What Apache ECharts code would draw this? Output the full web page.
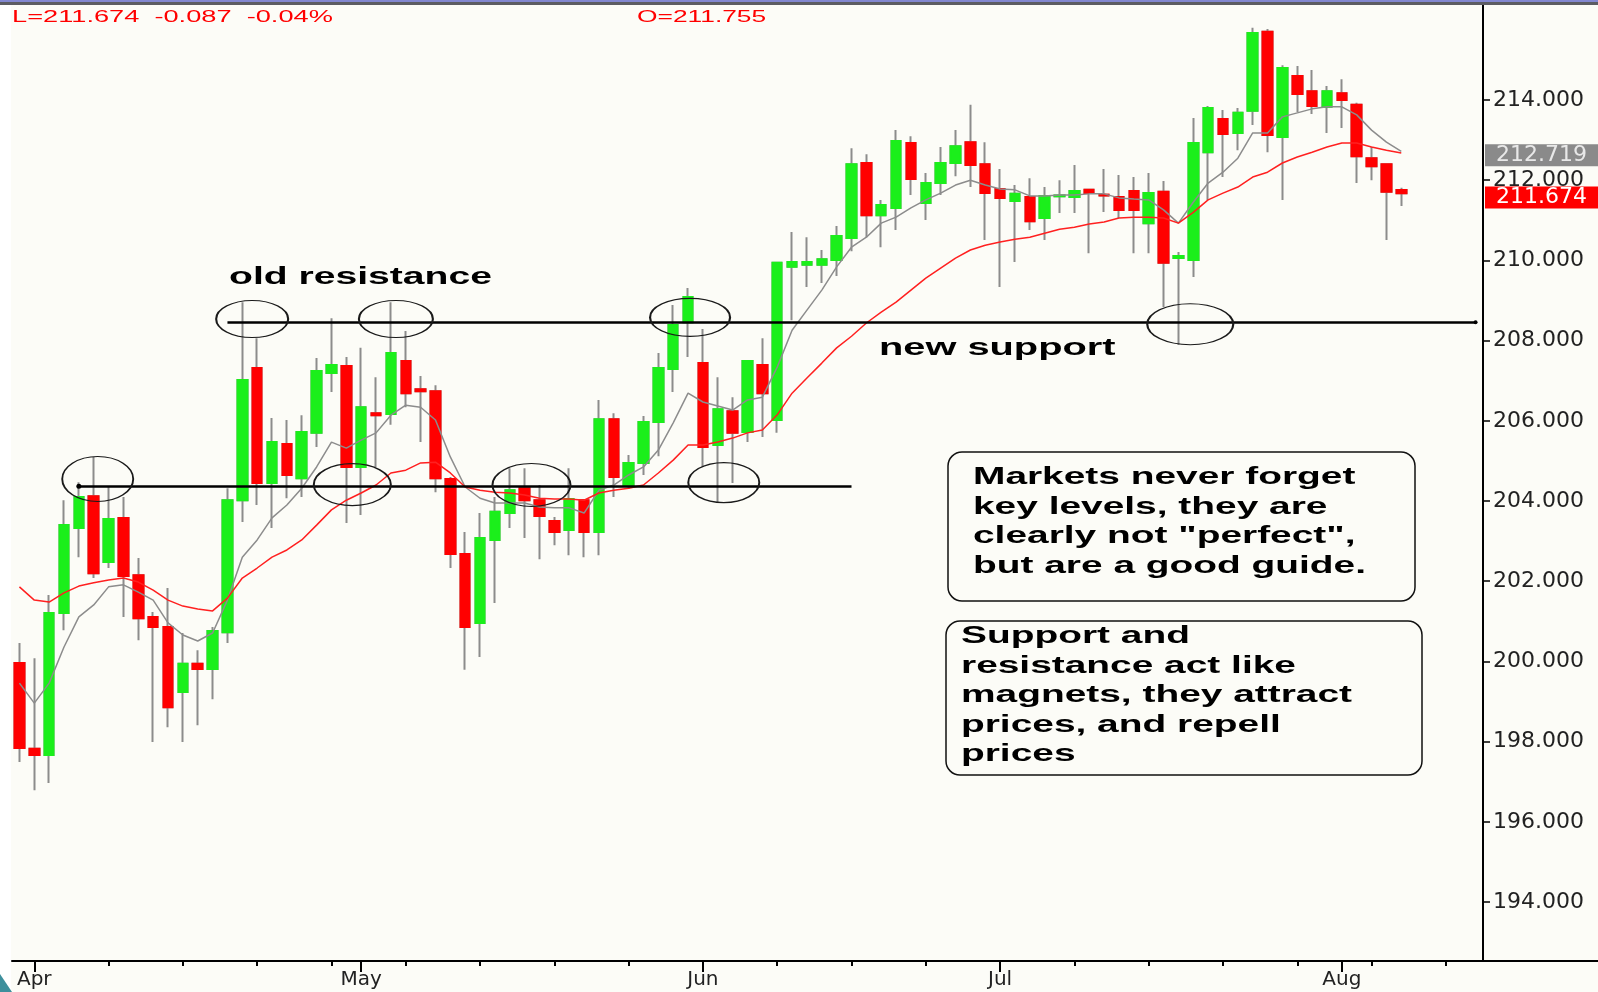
<!DOCTYPE html>
<html>
<head>
<meta charset="utf-8">
<title>Support and resistance</title>
<script src="https://cdn.jsdelivr.net/npm/echarts@6/dist/echarts.min.js"></script>
<style>
  html, body { margin: 0; padding: 0; background: #fcfcf7; }
  #chart { width: 1598px; height: 992px; }
</style>
</head>
<body>
<div id="chart"></div>
<script>
// daily candles (94 sessions, late Mar .. early Aug)
const opens = [199.96, 197.82, 197.67, 201.21, 203.33, 204.12, 202.48, 203.58, 202.15, 201.11,
  200.86, 199.24, 199.94, 199.81, 200.73, 204.02, 207.32, 204.45, 205.42, 204.57,
  205.70, 207.19, 207.37, 204.85, 206.19, 206.17, 207.49, 206.79, 206.74, 204.55,
  202.68, 200.96, 203.03, 203.70, 204.32, 204.02, 203.50, 203.28, 204.02, 203.23,
  206.04, 204.40, 204.95, 205.97, 207.29, 208.46, 207.44, 205.40, 206.24, 205.72,
  207.39, 206.02, 209.84, 209.89, 209.89, 210.01, 210.56, 212.43, 211.13, 211.31,
  212.93, 211.43, 211.93, 212.43, 212.95, 212.40, 211.78, 211.48, 211.58, 211.06,
  211.60, 211.58, 211.76, 211.64, 211.58, 211.73, 210.93, 211.71, 210.06, 210.01,
  212.70, 213.53, 213.18, 213.73, 215.70, 213.08, 214.60, 214.22, 213.83, 214.17,
  213.88, 212.55, 212.40, 211.755];
const closes = [197.84, 197.67, 201.21, 203.40, 204.10, 202.20, 203.55, 202.13, 201.08, 200.86,
  198.86, 199.94, 199.81, 200.76, 204.02, 207.02, 204.45, 205.47, 204.65, 205.72,
  207.24, 207.39, 204.85, 206.34, 206.14, 207.69, 206.69, 206.74, 204.57, 202.68,
  200.86, 203.08, 203.73, 204.27, 204.02, 203.63, 203.23, 204.05, 203.23, 206.04,
  204.60, 204.95, 205.97, 207.32, 208.39, 209.09, 205.35, 206.29, 205.70, 207.49,
  206.69, 209.94, 209.96, 209.96, 210.03, 210.61, 212.40, 211.13, 211.38, 212.98,
  212.03, 211.93, 212.43, 212.85, 212.38, 211.68, 211.56, 211.66, 210.98, 211.61,
  211.62, 211.73, 211.68, 211.62, 211.26, 211.26, 211.68, 209.94, 210.11, 212.93,
  213.80, 213.15, 213.68, 215.67, 213.13, 214.80, 214.15, 213.85, 214.22, 214.00,
  212.60, 212.35, 211.71, 211.674];
const lows = [197.49, 196.79, 196.97, 200.78, 202.60, 202.08, 202.33, 201.11, 200.53, 197.99,
  198.36, 197.99, 198.41, 199.06, 200.46, 203.48, 203.90, 203.33, 204.07, 204.10,
  205.35, 206.72, 203.45, 203.65, 204.85, 205.90, 206.34, 205.47, 204.22, 202.33,
  199.79, 200.11, 201.46, 203.33, 203.08, 202.55, 202.90, 202.65, 202.60, 202.65,
  204.10, 204.30, 204.65, 205.12, 206.72, 207.59, 204.85, 203.95, 204.45, 205.47,
  205.60, 205.70, 208.51, 209.34, 209.44, 209.61, 210.23, 210.58, 210.33, 210.76,
  211.63, 211.01, 211.63, 212.10, 211.83, 210.51, 209.34, 209.96, 210.76, 210.51,
  211.18, 211.18, 210.18, 211.21, 211.06, 210.18, 210.18, 208.84, 207.89, 209.59,
  211.51, 212.08, 212.75, 213.38, 212.70, 211.51, 213.70, 213.65, 213.18, 213.30,
  211.93, 212.00, 210.51, 211.36];
const highs = [200.46, 200.08, 201.66, 204.02, 204.47, 205.10, 204.35, 204.10, 202.58, 201.23,
  201.83, 200.71, 200.28, 200.86, 204.32, 208.96, 208.06, 206.07, 206.02, 206.14,
  207.57, 208.56, 207.59, 207.82, 207.09, 208.96, 208.24, 207.12, 206.89, 204.60,
  203.23, 203.70, 204.10, 204.82, 204.82, 204.40, 203.60, 204.82, 204.05, 206.52,
  206.19, 205.15, 206.12, 207.69, 208.89, 209.31, 208.29, 207.09, 206.59, 207.52,
  208.06, 209.97, 210.71, 210.58, 210.26, 210.86, 212.80, 212.65, 211.51, 213.25,
  213.10, 212.18, 212.83, 213.25, 213.88, 212.95, 212.28, 211.88, 212.05, 211.83,
  212.00, 212.38, 211.78, 212.28, 212.13, 212.08, 212.18, 211.98, 210.21, 213.55,
  213.85, 213.75, 213.80, 215.80, 215.77, 214.87, 214.85, 214.75, 214.35, 214.52,
  213.93, 212.83, 212.40, 211.81];

// moving averages as drawn (grey = fast, red = slow)
const maFast = [199.46, 198.96, 199.46, 200.36, 201.11, 201.41, 201.86, 201.91, 201.73, 201.53,
  200.96, 200.66, 200.51, 200.71, 201.53, 202.60, 203.03, 203.58, 203.90, 204.32,
  204.85, 205.47, 205.32, 205.52, 205.70, 206.14, 206.39, 206.34, 206.02, 205.10,
  204.35, 204.07, 203.95, 203.95, 203.95, 203.85, 203.83, 203.83, 203.70, 204.27,
  204.40, 204.65, 204.85, 205.27, 205.95, 206.69, 206.47, 206.37, 206.27, 206.52,
  206.59, 207.34, 208.26, 208.76, 209.26, 209.84, 210.33, 210.58, 210.93, 211.08,
  211.31, 211.51, 211.68, 211.88, 212.00, 211.88, 211.78, 211.76, 211.61, 211.61,
  211.63, 211.63, 211.66, 211.66, 211.56, 211.53, 211.51, 211.26, 210.93, 211.45,
  211.93, 212.20, 212.55, 213.18, 213.18, 213.58, 213.68, 213.78, 213.83, 213.83,
  213.63, 213.25, 212.95, 212.719];
const maSlow = [201.86, 201.53, 201.48, 201.71, 201.88, 201.96, 202.03, 202.08, 201.98, 201.78,
  201.53, 201.38, 201.31, 201.26, 201.58, 202.08, 202.33, 202.60, 202.78, 203.03,
  203.40, 203.78, 204.02, 204.20, 204.40, 204.70, 204.77, 204.95, 204.97, 204.70,
  204.35, 204.27, 204.22, 204.20, 204.15, 204.07, 204.05, 204.05, 204.02, 204.20,
  204.27, 204.32, 204.40, 204.70, 205.02, 205.40, 205.40, 205.47, 205.57, 205.70,
  205.77, 206.15, 206.69, 207.07, 207.44, 207.82, 208.11, 208.44, 208.71, 208.96,
  209.26, 209.56, 209.81, 210.06, 210.26, 210.38, 210.46, 210.53, 210.58, 210.68,
  210.78, 210.83, 210.91, 210.96, 211.06, 211.08, 211.08, 211.06, 210.93, 211.20,
  211.51, 211.68, 211.83, 212.08, 212.20, 212.43, 212.58, 212.70, 212.83, 212.93,
  212.93, 212.83, 212.75, 212.68];

// x axis: 99 daily slots, the last ones empty
const categories = Array.from({ length: 99 }, (_, i) => 'd' + i);
const monthLabels = { 1: 'Apr', 23: 'May', 46: 'Jun', 66: 'Jul', 89: 'Aug' };
const yTicks = [194, 196, 198, 200, 202, 204, 206, 208, 210, 212, 214];

// drawn support / resistance levels: [fromIndex, toIndex, price]
const levels = [[4, 56, 204.37], [14, 98, 208.46]];
// circled touches: [index, price]
const touches = [[5, 204.55], [16, 208.54], [22, 204.41], [25, 208.54],
  [35, 204.40], [45, 208.58], [47, 204.46], [79, 208.41]];
const touchSize = [[71, 45], [72, 37], [77, 42], [74, 37], [78, 43], [80, 38], [71, 40], [86, 41]];
const touchShift = [4, -5, 6, 5, -8, 2, 6, -3];

const lastMa = 212.719;
const lastClose = 211.674;

const UP = '#1bef1b';
const DOWN = '#ff0000';
const WICK = '#8c8c8c';
const axisFont = '"DejaVu Sans", sans-serif';
const boldFont = 'bold 23px "Liberation Sans", Arial, sans-serif';

const candles = opens.map((o, i) => [o, closes[i], lows[i], highs[i]]);
// second layer: bodies only, so wicks stay grey and bodies have no grey border
const bodies = opens.map((o, i) => [o, closes[i], Math.min(o, closes[i]), Math.max(o, closes[i])]);

const chart = echarts.init(document.getElementById('chart'));

function note(text, x, y, font, scaleX, color, lineHeight) {
  return {
    type: 'text', x: x, y: y, scaleX: scaleX, z: 100,
    style: {
      text: text, font: font, fill: color || '#000',
      textAlign: 'left', textVerticalAlign: lineHeight ? 'top' : 'middle',
      align: 'left', verticalAlign: lineHeight ? 'top' : 'middle',
      lineHeight: lineHeight
    }
  };
}

function priceTag(value, bg, fg) {
  return {
    yAxis: value,
    lineStyle: { color: 'rgba(0,0,0,0)', width: 0 },
    label: {
      show: true, position: 'end', distance: 2, formatter: value.toFixed(3),
      backgroundColor: bg, color: fg,
      fontFamily: axisFont, fontSize: 22, padding: [0, 2, 0, 11], width: 100,
      offset: [0, 4]
    }
  };
}

const option = {
  animation: false,
  backgroundColor: '#fcfcf7',
  grid: { left: 12, right: 115, top: 5, bottom: 31 },
  xAxis: [
    {
      type: 'category',
      data: categories,
      boundaryGap: true,
      axisLine: { show: true, lineStyle: { color: '#000', width: 2 } },
      axisTick: {
        show: true,
        alignWithLabel: true,
        interval: (i) => i % 5 === 1,
        length: 5,
        lineStyle: { color: '#000', width: 2 }
      },
      axisLabel: { show: false },
      splitLine: { show: false }
    },
    {
      type: 'category',
      data: categories,
      position: 'bottom',
      boundaryGap: true,
      axisLine: { show: false },
      axisTick: {
        show: true,
        alignWithLabel: true,
        interval: (i) => monthLabels[i] !== undefined,
        length: 11,
        lineStyle: { color: '#000', width: 2 }
      },
      axisLabel: {
        interval: (i) => monthLabels[i] !== undefined,
        formatter: (v, i) => monthLabels[i] || '',
        margin: 9,
        color: '#222',
        fontFamily: axisFont,
        fontSize: 20
      },
      splitLine: { show: false }
    }
  ],
  yAxis: {
    type: 'value',
    position: 'right',
    min: 192.53,
    max: 216.37,
    splitLine: { show: false },
    axisLine: { show: true, lineStyle: { color: '#000', width: 2 } },
    axisTick: { show: true, customValues: yTicks, length: 7, lineStyle: { color: '#000', width: 1.5 } },
    axisLabel: {
      customValues: yTicks,
      formatter: (v) => v.toFixed(3),
      margin: 10,
      color: '#222',
      fontFamily: axisFont,
      fontSize: 22
    }
  },
  series: [
    {
      name: 'wicks',
      type: 'candlestick',
      data: candles,
      barWidth: 10,
      itemStyle: {
        color: UP, color0: DOWN,
        borderColor: WICK, borderColor0: WICK, borderColorDoji: WICK,
        borderWidth: 2
      },
      z: 2
    },
    {
      name: 'bodies',
      type: 'candlestick',
      data: bodies,
      barWidth: 10,
      itemStyle: {
        color: UP, color0: DOWN,
        borderColor: UP, borderColor0: DOWN, borderColorDoji: DOWN,
        borderWidth: 2
      },
      z: 3
    },
    {
      name: 'fast',
      type: 'line',
      data: maFast,
      showSymbol: false,
      lineStyle: { color: '#8c8c8c', width: 1.5 },
      z: 4
    },
    {
      name: 'slow',
      type: 'line',
      data: maSlow,
      showSymbol: false,
      lineStyle: { color: '#ff2020', width: 1.5 },
      z: 4,
      markLine: {
        silent: true,
        symbol: 'none',
        data: [priceTag(lastMa, '#8a8a8a', '#e8e8e8'), priceTag(lastClose, '#ff0000', '#ffffff')]
      }
    },
    {
      name: 'levels',
      type: 'line',
      data: [],
      z: 6,
      markLine: {
        silent: true,
        label: { show: false },
        lineStyle: { color: '#000', width: 2.5, type: 'solid' },
        data: levels.map(([a, b, p], k) => [
          { coord: [a, p], symbol: k === 0 ? 'circle' : 'none', symbolSize: 5 },
          { coord: [b, p], symbol: k === 1 ? 'circle' : 'none', symbolSize: 4 }
        ])
      },
      markPoint: {
        silent: true,
        symbol: 'path://M0,20A36,20,0,1,1,72,20A36,20,0,1,1,0,20Z',
        label: { show: false },
        itemStyle: { color: 'rgba(0,0,0,0)', borderColor: '#1a1a1a', borderWidth: 1.5 },
        data: touches.map(([i, p], k) => ({
          coord: [i, p],
          symbolSize: touchSize[k],
          symbolOffset: [touchShift[k], 0]
        }))
      }
    }
  ],
  graphic: [
    { type: 'rect', z: 100, shape: { x: 0, y: 0, width: 1598, height: 2 }, style: { fill: '#8287d0' } },
    { type: 'rect', z: 100, shape: { x: 0, y: 2, width: 1598, height: 3 }, style: { fill: '#5c5c62' } },
    { type: 'rect', z: 100, shape: { x: 0, y: 5, width: 11, height: 987 }, style: { fill: '#ffffff' } },
    { type: 'polygon', z: 101, shape: { points: [[0, 974], [0, 992], [12, 992]] }, style: { fill: '#3d8f9c' } },
    { type: 'line', z: 100, shape: { x1: 1483, y1: 961, x2: 1598, y2: 961 }, style: { stroke: '#000', lineWidth: 2 } },
    note('L=211.674  -0.087  -0.04%', 12, 17, '17px "Liberation Sans", Arial, sans-serif', 1.6, '#ff0000'),
    note('O=211.755', 637, 17, '17px "Liberation Sans", Arial, sans-serif', 1.55, '#ff0000'),
    note('old resistance', 229, 278, boldFont, 1.7),
    note('new support', 879, 349, boldFont, 1.73),
    {
      type: 'rect', z: 100,
      shape: { x: 948, y: 452, width: 467, height: 149, r: 14 },
      style: { fill: 'rgba(0,0,0,0)', stroke: '#111', lineWidth: 1.5 }
    },
    note('Markets never forget\nkey levels, they are\nclearly not "perfect",\nbut are a good guide.', 973, 463, boldFont, 1.69, '#000', 29.6),
    {
      type: 'rect', z: 100,
      shape: { x: 946, y: 621, width: 476, height: 154, r: 14 },
      style: { fill: 'rgba(0,0,0,0)', stroke: '#111', lineWidth: 1.5 }
    },
    note('Support and\nresistance act like\nmagnets, they attract\nprices, and repell\nprices', 961, 622, boldFont, 1.69, '#000', 29.5)
  ]
};

chart.setOption(option);
window.addEventListener('resize', function () {
  chart.resize();
});
</script>
</body>
</html>
